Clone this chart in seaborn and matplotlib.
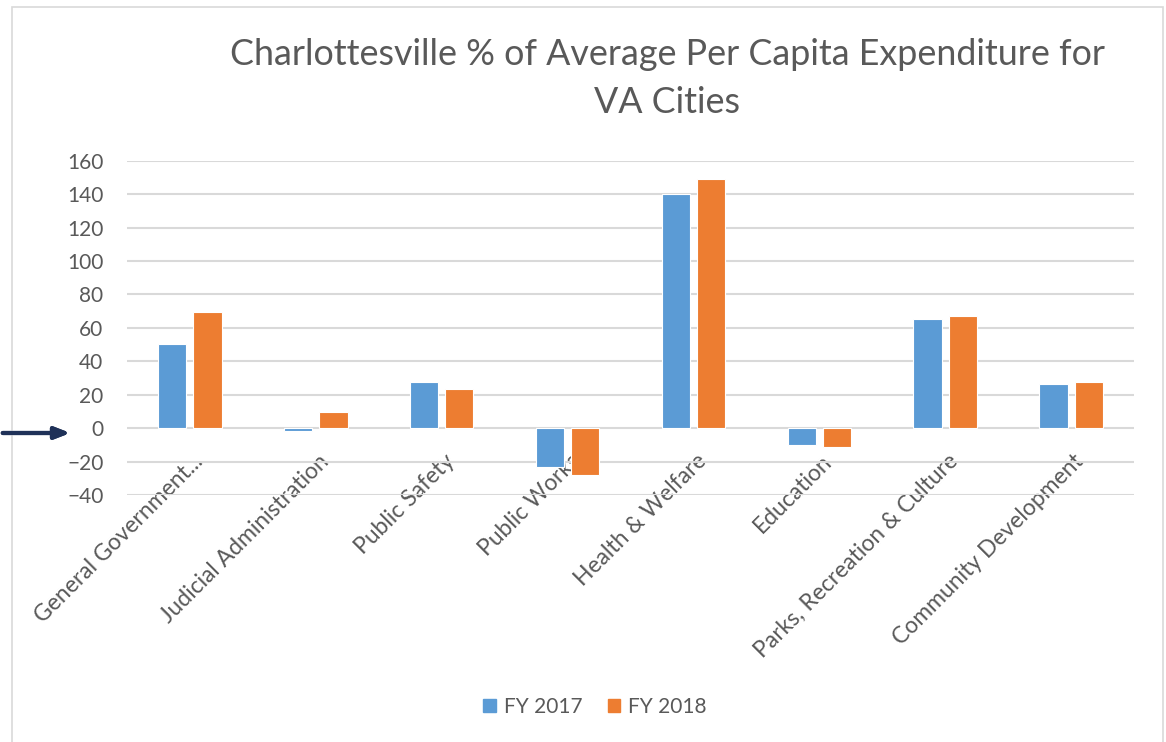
import pandas as pd
import matplotlib
matplotlib.use("Agg")
import matplotlib.pyplot as plt
import matplotlib.transforms as mtrans
from matplotlib.patches import Rectangle
import seaborn as sns

# values
categories = ["General Government...", "Judicial Administration", "Public Safety",
              "Public Works", "Health & Welfare", "Education",
              "Parks, Recreation & Culture", "Community Development"]
fy2017 = [50.5, -1.5, 27.5, -23, 140, -10, 65.5, 26.5]
fy2018 = [69.5, 9.8, 23.5, -28, 149, -11.5, 67.3, 27.5]
series_names = ["FY 2017", "FY 2018"]
yticks = [-40, -20, 0, 20, 40, 60, 80, 100, 120, 140, 160]

df = pd.DataFrame({
    "Category": categories * 2,
    "Value": fy2017 + fy2018,
    "Series": [series_names[0]] * len(categories) + [series_names[1]] * len(categories),
})

sns.set_style("white")
plt.rcParams['font.family'] = ['Lato', 'DejaVu Sans']
grey = "#595959"
colors = ["#5B9BD5", "#ED7D31"]

fig = plt.figure(figsize=(11.66, 7.42), dpi=100)
ax = fig.add_axes([127 / 1166, 1 - 495 / 742, (1134 - 127) / 1166, (495 - 160.7) / 742])

sns.barplot(data=df, x="Category", y="Value", hue="Series",
            palette=colors, saturation=1, width=0.56, gap=0.2,
            edgecolor="white", linewidth=0.8,
            ax=ax, legend=False, zorder=3)

ax.set_ylim(-40, 160)
ax.set_yticks(yticks)
ax.set_xlim(-0.5, len(categories) - 0.5)
ax.grid(axis="y", color="#d9d9d9", linewidth=1.5, zorder=0)
ax.set_axisbelow(True)
for s in ax.spines.values():
    s.set_visible(False)
ax.spines["bottom"].set_position(("data", 0))
ax.set_xlabel("")
ax.set_ylabel("")

ax.tick_params(axis="y", length=0, pad=17, labelsize=15, labelcolor=grey)
ax.tick_params(axis="x", length=0, pad=16, labelsize=16.5, labelcolor=grey)
offset = mtrans.ScaledTranslation(2 / 100, 0, fig.dpi_scale_trans)
for lab in ax.get_xticklabels():
    lab.set_rotation(45)
    lab.set_ha("right")
    lab.set_va("top")
    lab.set_rotation_mode("anchor")
    lab.set_transform(lab.get_transform() + offset)

# title
fig.text(667 / 1166, 1 - 113 / 742, "Charlottesville % of Average Per Capita Expenditure for\nVA Cities",
         ha="center", va="baseline", fontsize=25.8, color=grey,
         linespacing=1.54, multialignment="center")

# legend
handles = [Rectangle((0, 0), 1, 1, color=c) for c in colors]
fig.legend(handles, series_names, loc="center", bbox_to_anchor=(595 / 1166, 1 - 707 / 742),
           ncol=2, frameon=False, fontsize=15, labelcolor=grey, handlelength=0.6,
           handleheight=0.6, handletextpad=0.4, columnspacing=1.2)

# chart frame
fig.add_artist(Rectangle((12 / 1166, -0.1), (1163 - 12) / 1166, 1.1 - 7 / 742,
                         transform=fig.transFigure, fill=False, edgecolor="#d9d9d9", linewidth=1.2))

# arrow pointing at the zero line
fig.add_artist(plt.annotate("", xy=(73 / 1166, 1 - 433 / 742), xytext=(0, 1 - 433 / 742),
                            xycoords="figure fraction", textcoords="figure fraction",
                            arrowprops=dict(arrowstyle="-|>,head_length=0.9,head_width=0.35",
                                            color="#1F3158", lw=3)))

fig.savefig("out.png", dpi=100)
